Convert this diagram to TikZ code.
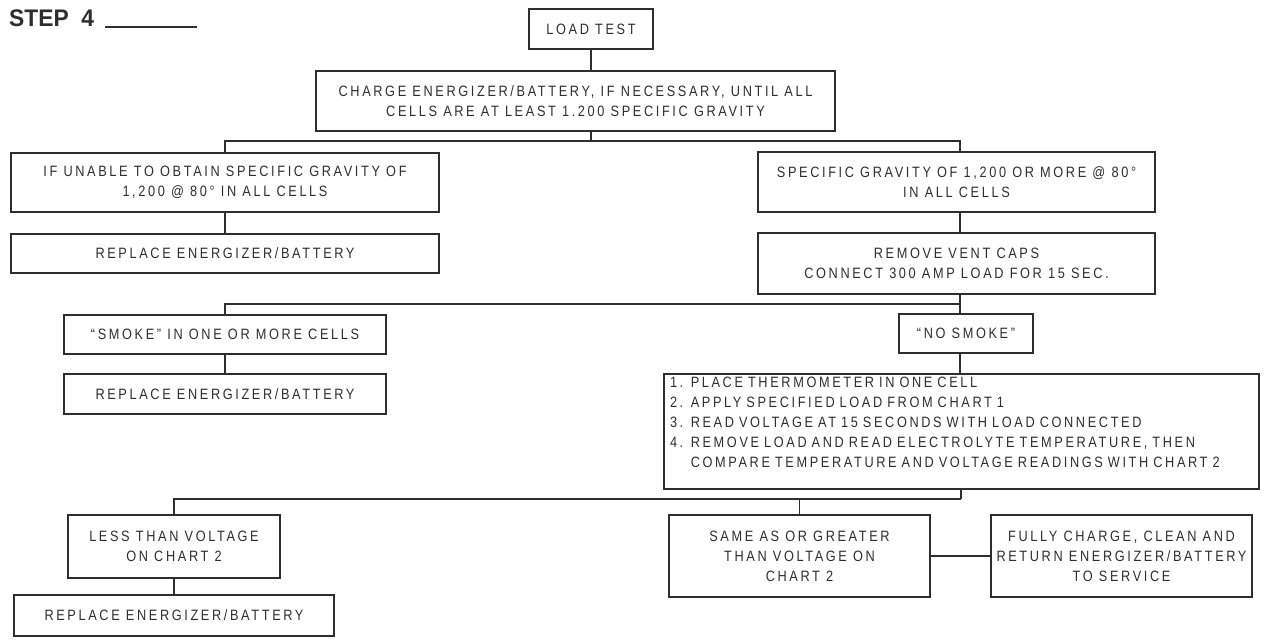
\documentclass[tikz,border=0pt]{standalone}
\usepackage{fontspec}
\setmainfont{Liberation Sans}[FakeStretch=0.85,LetterSpace=17.5]
\newfontfamily\headfont{Liberation Sans}[FakeStretch=0.95]
\usepackage{tikz}
\definecolor{ink}{HTML}{2E2E2E}

\begin{document}
\begin{tikzpicture}[x=1pt, y=-1pt,
    box/.style={draw=ink, line width=1.2pt, text=ink, align=center, inner sep=0pt,
        font=\fontsize{15}{20}\selectfont},
    wire/.style={draw=ink, line width=1.4pt}]
    \useasboundingbox (0,0) rectangle (1265,643);

    \node[text=ink, anchor=west, inner sep=0pt, font=\headfont\bfseries\fontsize{24}{24}\selectfont] at (9,18) (step) {STEP\ \ 4};
    \draw[wire] (105,27) -- (197,27);

    \node[box, minimum width=124, minimum height=40] at (591,29) (load) {LOAD TEST};
    \node[box, minimum width=519, minimum height=60] at (575.5,101) (charge) {CHARGE ENERGIZER/BATTERY, IF NECESSARY, UNTIL ALL\\CELLS ARE AT LEAST 1.200 SPECIFIC GRAVITY};

    \node[box, minimum width=428, minimum height=59] at (225,182.5) (unable) {IF UNABLE TO OBTAIN SPECIFIC GRAVITY OF\\1,200 @ 80° IN ALL CELLS};
    \node[box, minimum width=428, minimum height=39] at (225,253.5) (repl1) {REPLACE ENERGIZER/BATTERY};
    \node[box, minimum width=397, minimum height=60] at (956.5,182) (spec) {SPECIFIC GRAVITY OF 1,200 OR MORE @ 80°\\IN ALL CELLS};
    \node[box, minimum width=397, minimum height=61] at (956.5,263.5) (vent) {REMOVE VENT CAPS\\CONNECT 300 AMP LOAD FOR 15 SEC.};

    \node[box, minimum width=322, minimum height=39] at (225,334.5) (smoke) {“SMOKE” IN ONE OR MORE CELLS};
    \node[box, minimum width=322, minimum height=40] at (225,394) (repl2) {REPLACE ENERGIZER/BATTERY};
    \node[box, minimum width=134, minimum height=39] at (966,333.5) (nosmoke) {“NO SMOKE”};
    \node[box, align=left, inner xsep=6pt, text width=583, text depth=99pt, minimum height=115] at (961.5,431.5) (steps) {1. PLACE THERMOMETER IN ONE CELL\\
        2. APPLY SPECIFIED LOAD FROM CHART 1\\
        3. READ VOLTAGE AT 15 SECONDS WITH LOAD CONNECTED\\
        4. REMOVE LOAD AND READ ELECTROLYTE TEMPERATURE, THEN\\
        \phantom{4. }COMPARE TEMPERATURE AND VOLTAGE READINGS WITH CHART 2};

    \node[box, minimum width=212, minimum height=63] at (174,546.5) (less) {LESS THAN VOLTAGE\\ON CHART 2};
    \node[box, minimum width=320, minimum height=41] at (174,615.5) (repl3) {REPLACE ENERGIZER/BATTERY};
    \node[box, minimum width=261, minimum height=82] at (799.5,556) (same) {SAME AS OR GREATER\\THAN VOLTAGE ON\\CHART 2};
    \node[box, minimum width=261, minimum height=82] at (1121.5,556) (fully) {FULLY CHARGE, CLEAN AND\\RETURN ENERGIZER/BATTERY\\TO SERVICE};

    \coordinate (b1) at (591,141);
    \coordinate (b2) at (960,304);
    \coordinate (b3) at (961,499);

    \draw[wire] (load.south) -- (load.south |- charge.north);
    \draw[wire] (charge.south -| b1) -- (b1);
    \draw[wire] (unable.north) |- (b1) -| (spec.north -| b2);
    \draw[wire] (unable) -- (repl1);
    \draw[wire] (spec.south -| b2) -- (vent.north -| b2);
    \draw[wire] (vent.south -| b2) -- (nosmoke.north -| b2);
    \draw[wire] (smoke.north) |- (b2);
    \draw[wire] (smoke) -- (repl2);
    \draw[wire] (nosmoke.south -| b2) -- (steps.north -| b2);
    \draw[wire] (steps.south -| b3) -- (b3);
    \draw[wire] (less.north) |- (b3);
    \draw[wire] (same.north) -- (same.north |- b3);
    \draw[wire] (less) -- (repl3);
    \draw[wire] (same) -- (fully);
\end{tikzpicture}
\end{document}
